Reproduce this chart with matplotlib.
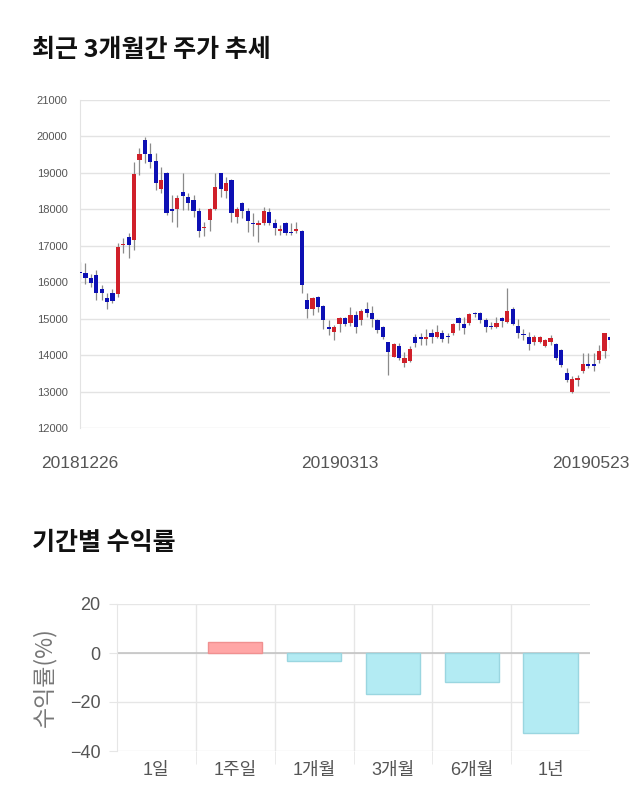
import matplotlib
matplotlib.use("Agg")
import matplotlib.pyplot as plt
import matplotlib.transforms as mtransforms
import numpy as np

plt.rcParams['font.family'] = ['Liberation Sans', 'Noto Sans CJK KR', 'DejaVu Sans']

# daily candles 2018-12-26 .. 2019-05-23 (open, high, low, close)
opens = [16290, 16244, 16107, 16198, 15805, 15558, 15713, 15667, 17012, 17250,
         17158, 19354, 19903, 19518, 19336, 18558, 19006, 18009, 18000, 18467,
         18347, 18256, 17963, 17478, 17707, 18000, 19006, 18512, 18805, 17798,
         18164, 17963, 17634, 17561, 17616, 17917, 17616, 17396, 17616, 17360,
         17396, 17405, 15512, 15256, 15603, 15347, 14762, 14643, 14853, 15009,
         14872, 15100, 14963, 15256, 15146, 14963, 14762, 14350, 13957, 14259,
         13792, 13850, 14505, 14487, 14450, 14596, 14505, 14615, 14505, 14596,
         15008, 14853, 14871, 15145, 15164, 14962, 14780, 14761, 15008, 14917,
         15255, 14798, 14578, 14505, 14350, 14350, 14258, 14350, 14304, 14139,
         13499, 12996, 13316, 13572, 13755, 13745, 13865, 14121, 14505]
highs = [16560, 16540, 16225, 16335, 15924, 15695, 15805, 17067, 17204, 17341,
         19308, 19674, 19994, 19811, 19537, 19171, 19034, 18393, 18393, 18988,
         18439, 18393, 18027, 17661, 18027, 19006, 19010, 18896, 18823, 18073,
         18210, 18027, 17890, 17707, 18073, 18027, 17725, 17570, 17661, 17634,
         17661, 17433, 15713, 15585, 15621, 15375, 14963, 14826, 15054, 15054,
         15310, 15219, 15256, 15466, 15347, 14981, 14798, 14368, 14323, 14341,
         14094, 14250, 14578, 14596, 14706, 14706, 14825, 14688, 14596, 14889,
         15054, 15054, 15145, 15191, 15170, 15008, 14917, 15036, 15036, 15832,
         15310, 14981, 14706, 14642, 14551, 14523, 14432, 14551, 14340, 14157,
         13636, 13426, 13453, 14048, 14048, 14048, 14276, 14614, 14523]
lows = [16100, 15950, 15860, 15510, 15512, 15256, 15420, 15600, 16793, 16655,
        16884, 18942, 19262, 19125, 18530, 18439, 17845, 17662, 17525, 17982,
        17981, 17799, 17250, 17268, 17405, 17981, 18329, 18302, 17661, 17616,
        17753, 17387, 17268, 17112, 17570, 17570, 17295, 17295, 17295, 17295,
        17341, 15713, 15009, 15100, 15192, 14707, 14551, 14414, 14643, 14798,
        14798, 14597, 14826, 15054, 14762, 14597, 14432, 13454, 13938, 13865,
        13682, 13800, 14230, 14276, 14276, 14322, 14459, 14368, 14322, 14551,
        14688, 14578, 14825, 15054, 14871, 14642, 14706, 14734, 14780, 14889,
        14825, 14459, 14413, 14139, 14276, 14322, 14231, 14276, 13865, 13664,
        13270, 12968, 13151, 13517, 13636, 13572, 13792, 13910, 14200]
closes = [16240, 16107, 15988, 15713, 15695, 15448, 15494, 16957, 17049, 17021,
          18960, 19518, 19518, 19308, 18713, 18805, 17909, 17963, 18302, 18366,
          18164, 17963, 17405, 17524, 18000, 18603, 18549, 18713, 17908, 18000,
          17963, 17689, 17598, 17616, 17963, 17616, 17497, 17451, 17360, 17340,
          17451, 15923, 15256, 15558, 15311, 14963, 14707, 14762, 15009, 14853,
          15100, 14762, 15219, 15146, 15000, 14689, 14488, 14094, 14305, 13911,
          13911, 14170, 14340, 14450, 14487, 14487, 14642, 14450, 14487, 14853,
          14889, 14734, 15118, 15118, 14962, 14761, 14761, 14889, 14944, 15209,
          14853, 14596, 14541, 14304, 14505, 14505, 14414, 14459, 13910, 13728,
          13316, 13334, 13362, 13755, 13700, 13700, 14112, 14596, 14414]
date_ticks = [0, 48, 98]
date_labels = ["20181226", "20190313", "20190523"]

periods = ["1일", "1주일", "1개월", "3개월", "6개월", "1년"]
returns = [0.0, 4.6, -3.1, -16.8, -11.8, -32.8]

fig = plt.figure(figsize=(6.4, 8.1), dpi=100)

# ---- candlestick chart ----
ax = fig.add_axes([80/640, 1-428/810, 530/640, 328/810])
o = np.array(opens); h = np.array(highs); l = np.array(lows); c = np.array(closes)
x = np.arange(len(o))
up = c >= o
cols = np.where(up, "#d0202a", "#0d10b4")
ax.vlines(x, l, h, color="#8a8a8a", linewidth=0.9, zorder=2)
body = np.maximum(np.abs(c - o), 25)
ax.bar(x, body, bottom=np.minimum(o, c), width=0.78, color=cols, zorder=3)
ax.set_xlim(0, len(o) - 1)
ax.set_ylim(12000, 21000)
ax.set_yticks(range(12000, 21001, 1000))
ax.grid(axis="y", color="#e3e3e3", linewidth=1)
ax.set_axisbelow(True)
for s in ["top", "right", "bottom"]:
    ax.spines[s].set_visible(False)
ax.spines["left"].set_color("#e3e3e3")
ax.tick_params(axis="y", length=0, pad=9, labelsize=8, labelcolor="#555555")
ax.set_xticks(date_ticks)
ax.set_xticklabels(date_labels)
ax.tick_params(axis="x", length=0, pad=20, labelsize=12.5, labelcolor="#555555")
last = ax.get_xticklabels()[-1]
last.set_transform(last.get_transform() +
                   mtransforms.ScaledTranslation(-0.19, 0, fig.dpi_scale_trans))

fig.text(32/640, 1-50/810, "최근 3개월간 주가 추세", fontsize=18, fontweight="bold",
         family=["Noto Sans CJK KR"], va="center", ha="left", color="#111111")
fig.text(32/640, 1-543/810, "기간별 수익률", fontsize=18, fontweight="bold",
         family=["Noto Sans CJK KR"], va="center", ha="left", color="#111111")

# ---- returns bar chart ----
bx = fig.add_axes([117/640, 1-751/810, 473/640, 147/810])
bar_cols = ["#ffa6a6" if v >= 0 else "#b3ebf3" for v in returns]
edge_cols = ["none" if v == 0 else ("#f09090" if v > 0 else "#9ad6e0") for v in returns]
bx.bar(range(len(periods)), returns, width=0.69, color=bar_cols,
       edgecolor=edge_cols, linewidth=1, zorder=3)
bx.set_xlim(-0.5, len(periods) - 0.5)
bx.set_ylim(-40, 20)
bx.set_yticks([-40, -20, 0, 20])
bx.grid(axis="y", color="#e6e6e6", linewidth=1)
bx.axhline(0, color="#c4c4c4", linewidth=1.2, zorder=2)
bx.set_xticks(range(len(periods)))
bx.set_xticklabels(periods, family=["Liberation Sans", "Noto Sans CJK KR"])
bx.set_xticks(np.arange(0.5, len(periods) - 1), minor=True)
bx.grid(axis="x", which="minor", color="#e6e6e6", linewidth=1)
bx.tick_params(axis="x", which="major", length=0, pad=8, labelsize=13, labelcolor="#555555")
bx.tick_params(axis="x", which="minor", length=9, color="#e6e6e6")
bx.tick_params(axis="y", length=6, color="#e6e6e6", pad=6, labelsize=13, labelcolor="#555555")
for s in ["top", "right", "bottom"]:
    bx.spines[s].set_visible(False)
bx.spines["left"].set_color("#e6e6e6")
bx.set_axisbelow(True)
bx.set_ylabel("수익률(%)", fontsize=16.5, color="#777777", labelpad=10,
              family=["Noto Sans CJK KR"])

fig.savefig("out.png", dpi=100, facecolor="white")
